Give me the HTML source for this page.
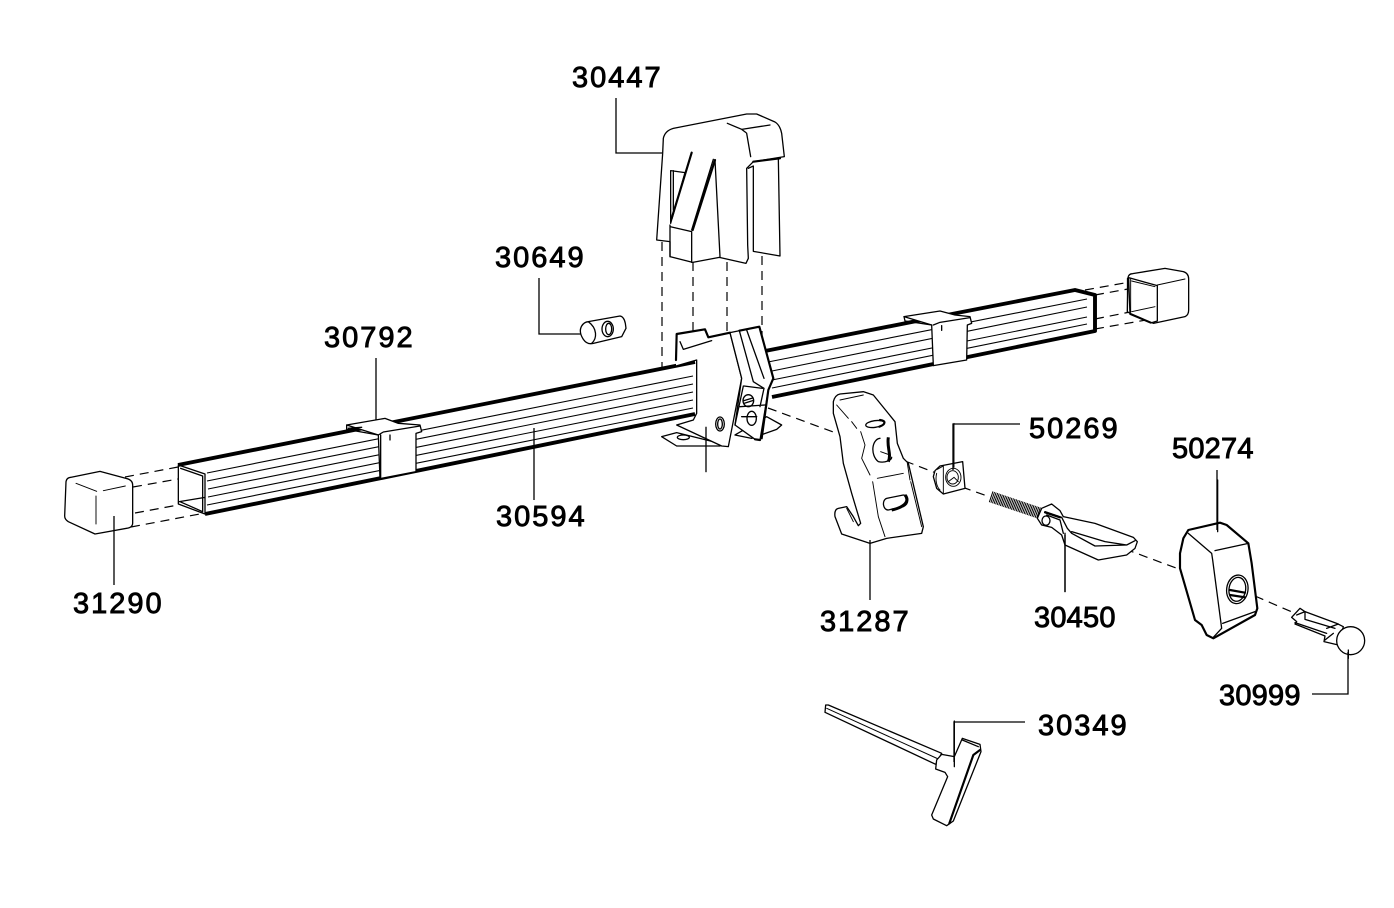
<!DOCTYPE html>
<html><head><meta charset="utf-8"><style>
html,body{margin:0;padding:0;background:#fff;width:1394px;height:908px;overflow:hidden}
svg{display:block}
text{font-family:"Liberation Sans",sans-serif;font-size:29px;letter-spacing:2px;fill:#000;stroke:#000;stroke-width:.9px}
text.n{letter-spacing:.2px}
.z{fill:none;stroke:#000;stroke-width:3.9;stroke-linejoin:round;stroke-linecap:round}
.z .w{fill:#fff}
.z .t{stroke-width:6.5}
.z .h{stroke-width:9;stroke-linecap:butt}
.z .f{stroke-width:2.8}
.l{fill:none;stroke:#000;stroke-width:1.3}
.d{fill:none;stroke:#000;stroke-width:1.2;stroke-dasharray:9 6}
.bar{fill:none;stroke:#000;stroke-width:3.9;stroke-linejoin:round}
.rib{fill:none;stroke:#000;stroke-width:1.1}
</style></head><body>
<svg width="1394" height="908" viewBox="0 0 1394 908" xmlns="http://www.w3.org/2000/svg">
<rect width="1394" height="908" fill="#fff"/>

<!-- dashed centre lines -->
<path class="d" d="M662 242V370M693 262V340M727 262V335M762 256V335"/>
<path class="d" d="M768 408L836 433M905 461L936 473M962 487L990 497M1125 549L1184 571M1255 596L1292 612"/>
<path class="d" d="M125 477L178 467M133 487L178 479M135 513L178 505M131 527L205 513"/>
<path class="d" d="M1085 290L1130 282M1095 295L1150 285M1095 319L1130 312M1095 329L1146 320"/>

<!-- continuous bar -->
<path class="bar" d="M178 465L695 362M205 514L695 414M765 351L957 313L1075 290L1095 295V331L772 397"/>
<path class="rib" d="M207 473L693 376M207 481L693 384M208 489L693 392M208 497L693 400M207 505L693 408M768 362L1087 299M772 371L1087 307M772 380L1087 317M772 388L1087 324"/>

<!-- left bar end + sleeve -->
<g class="z" transform="translate(50 400) scale(.33333)">
<path d="M385 195L465 222V342L385 312ZM392 205L458 228V335L390 305M388 305L465 292"/>
<path class="w" d="M890 75L1005 55L1045 70L1110 75L1115 95L1098 100V215L990 236L985 105Z"/>
<path d="M890 75L890 88L985 105M895 85L935 82M985 105L1000 96L1110 78M992 105V234M1020 105V120"/>
<path class="w" d="M48 245Q50 233 62 232L150 214L228 235Q248 240 248 255V370Q248 380 235 384L135 402L55 365Q44 358 44 348Z"/>
<path class="f" d="M78 250L140 274M160 272L226 258M138 288V372M192 350V420"/>
</g>

<!-- right sleeve + cap -->
<g class="z" transform="translate(890 255) scale(.33333)">
<path class="w" d="M42 185L150 168L195 180L240 185L245 205L232 210L230 315L130 332L125 210Z"/>
<path d="M42 185L45 198L125 210M130 210L150 202L240 188M155 212V226"/>
<path class="w" d="M714 68Q716 56 728 56L825 40L880 50Q896 55 896 72V165Q896 180 885 185L790 205L720 175L712 170Z"/>
<path d="M716 68L802 92V198L782 204L720 178Z"/>
<path class="f" d="M722 70V172M712 70V170M725 170L795 155M725 78L795 95M802 90L885 72"/>
</g>

<!-- bracket -->
<g class="z" transform="translate(640 310) scale(.33333)">
<!-- base -->
<path class="w" d="M65 380L110 368L240 400V408H110Z"/>
<path class="w" d="M285 375L335 385L410 358L425 345L380 320Z"/>
<ellipse cx="130" cy="382" rx="18" ry="7"/>
<!-- plate with rear tab, masks the bar -->
<path class="w" style="stroke:none" d="M108 72L195 58L205 82L270 68L305 205L265 410L245 408L110 345L155 330L170 310V150L108 168Z"/>
<path class="t" d="M108 150L110 72L195 58L205 82L270 68"/>
<path d="M120 95L130 118L215 92"/>
<path d="M170 150V310L160 330L110 345L245 408L265 410L305 205L270 68M108 168L170 150"/>
<!-- side -->
<path class="w" d="M270 68L358 50L400 205L385 240L360 390L345 388L285 345L305 205Z"/>
<path class="t" d="M298 62L358 50L400 205L385 240L365 385M345 388L360 390"/>
<path d="M298 62L340 215M320 60L372 205M340 215L372 235L360 290M312 228L368 235M300 290L375 285M285 345L310 228"/>
<path d="M305 320L350 320"/>
<ellipse cx="240" cy="342" rx="13" ry="21"/><ellipse cx="240" cy="342" rx="7" ry="15"/>
<ellipse cx="325" cy="272" rx="16" ry="18"/><path d="M312 272L338 264M312 280L338 272"/>
<ellipse cx="335" cy="325" rx="14" ry="21"/>
<path d="M198 352V485"/>
</g>

<!-- cover 30447 -->
<g class="z" transform="translate(640 110) scale(.33333)">
<path class="w" d="M50 390L68 130L70 85Q75 62 100 55L320 12L350 12L405 36Q420 45 425 70L433 140L340 155L320 175L323 405L325 445L318 460L238 442L158 457L90 440V395Z"/>
<path d="M262 40L305 58L390 45M305 58L318 68M320 70L332 140M415 145L420 438L340 424V168L325 175M92 182L135 188L92 340V182M100 182V300M225 150L240 440M155 360L220 148M90 350L155 365V457M90 345V440"/>
<path class="t" d="M155 128L95 325M225 150L158 360M340 155L420 145"/>
</g>

<!-- 30649 pin -->
<g class="z" transform="translate(560 300) scale(.33333)">
<path class="w" d="M85 65L180 48Q192 50 196 70L198 85L185 110L100 130Q82 135 70 118Q55 95 65 78Q72 66 85 65Z"/>
<path d="M85 65C112 85 112 115 95 130"/>
<ellipse cx="143" cy="87" rx="17" ry="23"/><ellipse cx="146" cy="87" rx="9" ry="17"/>
</g>

<!-- hook 31287 and nut 50269 -->
<g class="z" transform="translate(820 380) scale(.33333)">
<path class="w" d="M40 65Q45 45 60 42L130 35L160 45L225 125L232 190L250 235L265 250L310 440L305 460L200 475L150 490L65 462L45 410Q42 388 55 385L80 380L100 410L115 437L122 430L95 340L70 250L60 170L40 100Z"/>
<path class="f" d="M60 60L130 45M50 75L85 115M95 125L110 145M122 155L135 195L125 235L150 285M172 295L250 280M158 305L175 410L195 470M262 250L270 300M272 305L305 440M80 385L100 425"/>
<ellipse cx="165" cy="132" rx="28" ry="10" transform="rotate(-8 165 132)"/>
<path class="t" d="M180 120C200 122 196 134 178 140"/>
<path d="M180 175C155 178 150 225 175 245C195 250 215 240 215 232"/>
<path class="h" d="M205 172C200 205 215 220 205 245"/>
<path class="f" d="M182 215L210 225"/>
<path d="M200 355L250 345C265 345 270 370 250 380L205 390C188 390 185 360 200 355Z"/>
<path class="h" d="M255 345C268 360 260 380 215 390"/>
<!-- nut -->
<path class="w" d="M345 272L360 258L428 245L435 325L370 342L350 325L340 290Z"/>
<path class="f" d="M352 268L370 258L370 340M350 280C345 300 350 320 360 330"/>
<ellipse class="f" cx="400" cy="292" rx="23" ry="27"/><ellipse class="f" cx="398" cy="292" rx="17" ry="20"/>
<path class="f" d="M402 130V262M402 292L385 305M402 292L415 305"/>
</g>

<!-- bolt, knob, plug -->
<g class="z" transform="translate(980 480) scale(.33333)">
<path d="M32 50L180 100" stroke-width="34" stroke-dasharray="3 2" stroke-linecap="butt"/>
<path class="w" d="M185 85L215 72L240 92L250 110L345 130L460 172L472 185L465 205L440 225L355 240L255 195L245 165L215 142L185 135L172 115Z"/>
<path d="M195 95L245 112L262 145L275 160L345 198L440 195L465 182M275 155L375 185L440 195M200 105L240 120L250 160"/>
<ellipse cx="198" cy="122" rx="12" ry="14"/>
<path class="t" d="M195 97L240 112"/>
<path d="M255 160V335"/>
<!-- knob -->
<path class="w t" d="M625 150L720 128L740 135L805 190L815 250L832 385L825 405L700 475L680 465L665 435L645 420L600 265L600 220L610 175Z"/>
<path d="M625 160L695 220L698 240L725 445L700 472M705 212L805 190M728 430L825 395M713 0V155"/>
<ellipse cx="772" cy="328" rx="32" ry="43" transform="rotate(8 772 328)"/>
<ellipse cx="772" cy="328" rx="25" ry="36" transform="rotate(8 772 328)"/>
<path class="t" d="M750 330L795 338M750 345L795 352"/>
<!-- plug -->
<path class="w" d="M935 412L960 385L975 395L1070 430L1090 440L1075 495L1032 485L1035 468L945 432L950 425Z"/>
<path d="M950 405L975 395L975 418M945 428L1040 460M975 418L1065 445M1040 445L1075 432M1035 480L1060 460"/>
<circle class="w" cx="1112" cy="482" r="42"/>
<path d="M1105 510V535"/>
</g>

<!-- T wrench -->
<g class="z" transform="translate(815 695) scale(.33333)">
<path class="w" d="M32 30L40 30L380 175L362 208L30 52Z"/>
<path d="M35 40L370 192" stroke-width="3"/>
<path class="w" d="M380 178L418 185L442 130L495 148L498 170L415 378L395 392L355 372L350 360L398 245L390 232L362 222L365 195Z"/>
<path class="t" d="M495 165L475 180L403 385"/>
<path d="M442 135L490 155M418 188V215M418 185V78"/>
</g>

<!-- leaders -->
<path class="l" d="M616 98V153H662M539 278V334H581M376 358V420M534 428V500M114 516V585M870 540V600M953 470V424H1020M1217 470V530M1065 535V592M1348 652V694H1312M954 762V722H1025"/>

<!-- labels -->
<text x="572" y="87">30447</text>
<text x="495" y="267">30649</text>
<text x="324" y="347">30792</text>
<text x="496" y="526">30594</text>
<text x="73" y="613">31290</text>
<text x="820" y="631">31287</text>
<text x="1029" y="438">50269</text>
<text class="n" x="1172" y="458">50274</text>
<text class="n" x="1034" y="627">30450</text>
<text class="n" x="1219" y="705">30999</text>
<text x="1038" y="735">30349</text>
</svg>
</body></html>
